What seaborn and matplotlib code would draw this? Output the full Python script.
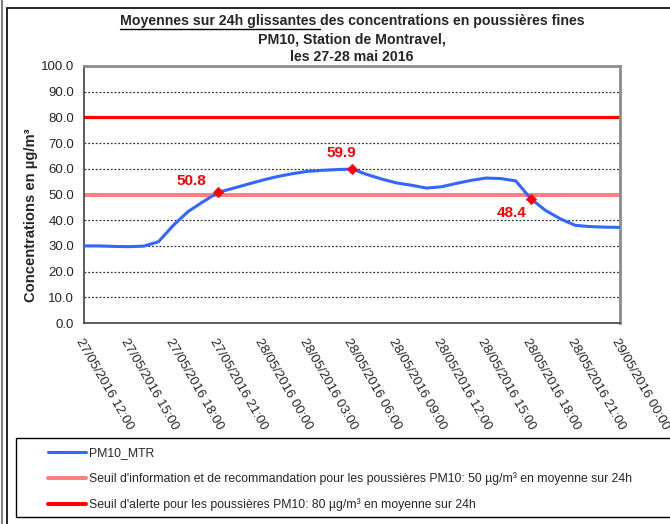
import matplotlib
matplotlib.use("Agg")
import matplotlib.pyplot as plt
import seaborn as sns
import pandas as pd
from matplotlib.lines import Line2D
from matplotlib.patches import Rectangle

# hours since 27/05/2016 12:00, one value per hour
hours = list(range(37))
pm10_mtr = [30.0, 30.0, 29.8, 29.7, 29.9, 31.6, 38.0, 43.4, 47.2, 50.8,
            52.4, 54.0, 55.6, 57.0, 58.1, 59.0, 59.4, 59.7, 59.9, 57.8,
            56.0, 54.5, 53.6, 52.5, 53.0, 54.3, 55.5, 56.4, 56.2, 55.3,
            48.4, 43.8, 40.5, 38.0, 37.5, 37.3, 37.2]
tick_labels = ["27/05/2016 12:00", "27/05/2016 15:00", "27/05/2016 18:00",
               "27/05/2016 21:00", "28/05/2016 00:00", "28/05/2016 03:00",
               "28/05/2016 06:00", "28/05/2016 09:00", "28/05/2016 12:00",
               "28/05/2016 15:00", "28/05/2016 18:00", "28/05/2016 21:00",
               "29/05/2016 00:00"]
seuil_info = 50
seuil_alerte = 80
marked = [9, 18, 30]
label_offsets = [(-19, 8), (-8, 11.5), (-14, -10)]

legend_labels = ["PM10_MTR",
                 "Seuil d'information et de recommandation pour les poussières PM10: 50 µg/m³ en moyenne sur 24h",
                 "Seuil d'alerte pour les poussières PM10: 80 µg/m³ en moyenne sur 24h"]

sns.set_style("white")
plt.rcParams['font.family'] = ['Liberation Sans', 'DejaVu Sans']

W, H = 670, 524
fig = plt.figure(figsize=(W / 100, H / 100), dpi=100)
ax = fig.add_axes([84 / W, 1 - 323 / H, (620 - 84) / W, (323 - 66) / H])

df = pd.DataFrame({"heure": hours, "PM10_MTR": pm10_mtr})

ax.axhline(seuil_alerte, color="#FF0000", lw=2.3, zorder=2)
ax.axhline(seuil_info, color="#FF8080", lw=2.9, zorder=2)
sns.lineplot(data=df, x="heure", y="PM10_MTR", ax=ax, color="#3366FF", lw=2.2, zorder=3)

mdf = df.iloc[marked]
sns.scatterplot(data=mdf, x="heure", y="PM10_MTR", ax=ax, marker="D", s=28,
                color="#FF0000", edgecolor="#FF0000", zorder=4)
for (i, v), off in zip(zip(mdf["heure"], mdf["PM10_MTR"]), label_offsets):
    ax.annotate(f"{v:.1f}", (i, v), xytext=off, textcoords="offset points",
                ha="center", va="center", color="#FF0000", fontsize=11,
                fontweight="bold")

ax.set_xlim(0, 36)
ax.set_ylim(0, 100)
ax.set_yticks(range(0, 101, 10))
ax.set_yticklabels([f"{v:.1f}" for v in range(0, 101, 10)], fontsize=9.5)
ax.set_xticks(range(0, 37, 3))
ax.set_xticklabels(tick_labels, rotation=-60, ha="left", va="top",
                   rotation_mode="anchor", fontsize=9.5)
ax.set_xticks(range(0, 37, 2), minor=True)
ax.tick_params(axis="x", which="major", length=0, pad=10)
ax.tick_params(axis="x", which="minor", length=4, width=1, color="#404040", direction="out")
ax.tick_params(axis="y", length=4, width=1, color="#404040", direction="out", pad=3)
ax.yaxis.grid(True, linestyle=(0, (1.5, 1.5)), color="#333333", lw=0.9)
ax.set_axisbelow(True)
ax.set_xlabel("")
ax.set_ylabel("Concentrations en µg/m³", fontsize=10.6, fontweight="bold")
ax.yaxis.set_label_coords((38 - 84) / 536, (323 - 215) / 257)
for s in ["left", "bottom"]:
    ax.spines[s].set_color("#404040")
    ax.spines[s].set_linewidth(1.2)
for s in ["top", "right"]:
    ax.spines[s].set_color("#8C8C8C")
    ax.spines[s].set_linewidth(2)

# title, first part underlined
fig.canvas.draw()
r = fig.canvas.get_renderer()
part1 = "Moyennes sur 24h glissantes "
part2 = "des concentrations en poussières fines"
t1 = fig.text(0, 1 - 21 / H, part1, fontsize=10.2, fontweight="bold", va="center", ha="left")
t2 = fig.text(0, 1 - 21 / H, part2, fontsize=10.2, fontweight="bold", va="center", ha="left")
w1 = t1.get_window_extent(r).width
w2 = t2.get_window_extent(r).width
x0 = 352 - (w1 + w2) / 2
t1.set_x(x0 / W)
t2.set_x((x0 + w1) / W)
bb = t1.get_window_extent(r)
fig.add_artist(Line2D([x0 / W, (x0 + w1) / W], [(bb.y0 - 1) / H, (bb.y0 - 1) / H],
                      color="black", lw=1))
fig.text(352 / W, 1 - 39 / H, "PM10, Station de Montravel,", fontsize=10.2,
         fontweight="bold", ha="center", va="center")
fig.text(352 / W, 1 - 57 / H, "les 27-28 mai 2016", fontsize=10.2,
         fontweight="bold", ha="center", va="center")

# legend
handles = [Line2D([], [], color="#3366FF", lw=2.2),
           Line2D([], [], color="#FF8080", lw=2.9),
           Line2D([], [], color="#FF0000", lw=2.9)]
fig.legend(handles, legend_labels, loc="upper left", bbox_to_anchor=(48 / W, 1 - 447 / H),
           frameon=False, fontsize=8.8, handlelength=3.1, handletextpad=0.25,
           labelspacing=1.07, borderpad=0, borderaxespad=0)
fig.add_artist(Rectangle((16 / W, 1 - 517 / H), 700 / W, 79 / H, fill=False,
                         edgecolor="black", lw=1, transform=fig.transFigure))
# chart borders
fig.add_artist(Rectangle((7 / W, -0.1), 1.2, 1 - 8 / H + 0.1, fill=False,
                         edgecolor="black", lw=1.2, transform=fig.transFigure))
fig.add_artist(Line2D([2 / W, 2 / W], [0, 1], color="#808080", lw=1.5))

fig.savefig("out.png", dpi=100)
